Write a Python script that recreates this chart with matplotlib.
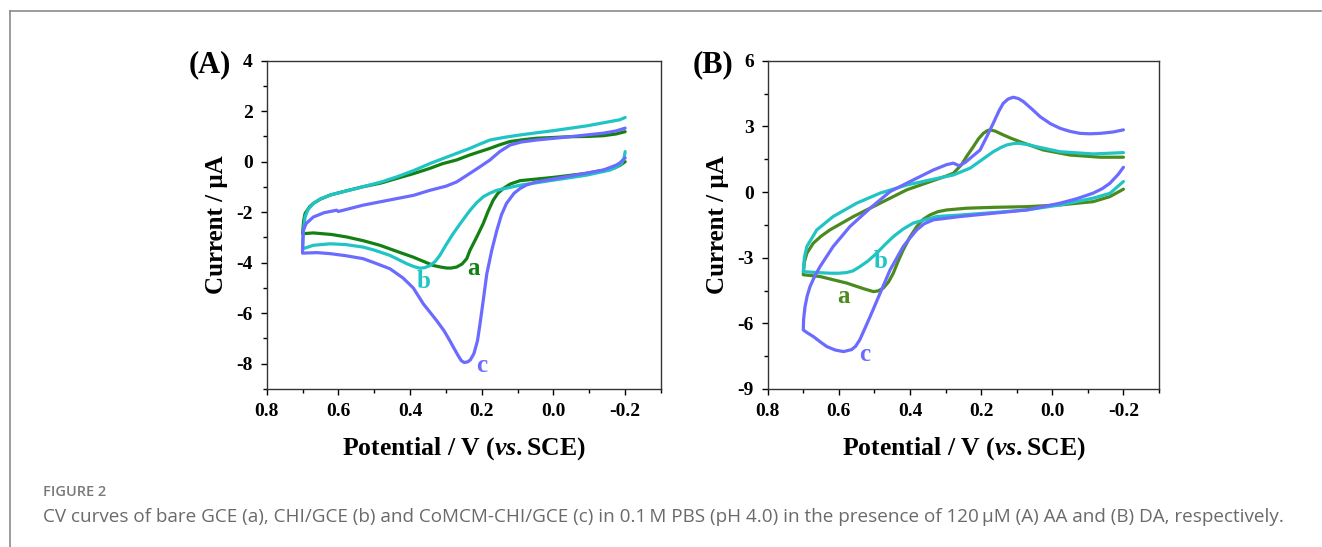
import numpy as np
import matplotlib
matplotlib.use("Agg")
import matplotlib.pyplot as plt
from matplotlib.ticker import MultipleLocator, FormatStrFormatter
from matplotlib.lines import Line2D

plt.rcParams['font.family'] = 'Liberation Serif'
plt.rcParams['font.weight'] = 'bold'
plt.rcParams['axes.unicode_minus'] = False
plt.rcParams['mathtext.fontset'] = 'custom'
plt.rcParams['mathtext.it'] = 'Liberation Serif:italic:bold'
plt.rcParams['mathtext.rm'] = 'Liberation Serif:bold'

# CV loops, potential (V) / current (uA)
# each trace: cathodic branch from -0.2 to 0.7, then anodic branch from 0.7 back to -0.2

# ---- panel A: AA
A_a_x = [-0.200, -0.185, -0.167, -0.093, 0.000, 0.093, 0.120, 0.140, 0.155, 0.168, 0.182, 0.196, 0.214,
         0.233, 0.242, 0.255, 0.270, 0.285, 0.298, 0.315, 0.335, 0.391, 0.437, 0.484, 0.530, 0.577, 0.620,
         0.670, 0.700,
         0.700, 0.697, 0.693, 0.680, 0.670, 0.650, 0.623, 0.580, 0.531, 0.480, 0.437, 0.390, 0.344, 0.310,
         0.270, 0.233, 0.205, 0.177, 0.150, 0.121, 0.080, 0.047, 0.000, -0.046, -0.093, -0.139, -0.175, -0.200]
A_a_y = [0.00, -0.15, -0.26, -0.46, -0.62, -0.75, -0.88, -1.06, -1.25, -1.52, -1.95, -2.45, -2.98,
         -3.51, -3.84, -4.05, -4.17, -4.21, -4.21, -4.17, -4.11, -3.78, -3.55, -3.31, -3.13, -2.98, -2.88,
         -2.82, -2.85,
         -2.85, -2.35, -2.05, -1.78, -1.65, -1.48, -1.32, -1.16, -0.99, -0.84, -0.66, -0.47, -0.26, -0.08,
         0.07, 0.27, 0.40, 0.53, 0.67, 0.80, 0.88, 0.93, 0.96, 0.99, 1.00, 1.03, 1.10, 1.19]

A_b_x = [-0.200, -0.197, -0.190, -0.175, -0.158, -0.093, 0.000, 0.093, 0.158, 0.178, 0.196, 0.214, 0.230,
         0.242, 0.260, 0.280, 0.300, 0.317, 0.330, 0.344, 0.358, 0.372, 0.390, 0.409, 0.456, 0.500, 0.531,
         0.580, 0.623, 0.670, 0.700,
         0.700, 0.698, 0.693, 0.685, 0.670, 0.650, 0.623, 0.531, 0.480, 0.437, 0.390, 0.344, 0.300, 0.270,
         0.233, 0.205, 0.177, 0.135, 0.093, 0.045, 0.000, -0.093, -0.158, -0.185, -0.200]
A_b_y = [0.40, 0.15, -0.07, -0.22, -0.33, -0.53, -0.73, -0.93, -1.13, -1.25, -1.39, -1.62, -1.88,
         -2.10, -2.45, -2.85, -3.30, -3.71, -3.95, -4.11, -4.19, -4.22, -4.15, -4.04, -3.71, -3.50, -3.38,
         -3.28, -3.25, -3.31, -3.45,
         -3.45, -2.80, -2.19, -1.90, -1.65, -1.47, -1.32, -0.99, -0.80, -0.60, -0.35, -0.07, 0.17, 0.33,
         0.53, 0.70, 0.86, 0.97, 1.06, 1.15, 1.23, 1.42, 1.59, 1.66, 1.75]

A_c_x = [-0.200, -0.185, -0.176, -0.139, -0.046, 0.047, 0.075, 0.093, 0.110, 0.131, 0.145, 0.158, 0.172,
         0.186, 0.195, 0.205, 0.212, 0.222, 0.232, 0.240, 0.249, 0.257, 0.265, 0.277, 0.289, 0.305, 0.326,
         0.345, 0.363, 0.391, 0.420, 0.456, 0.500, 0.531, 0.580, 0.623, 0.660, 0.700,
         0.700, 0.699, 0.698, 0.690, 0.670, 0.640, 0.605, 0.600, 0.531, 0.437, 0.390, 0.344, 0.300, 0.270,
         0.233, 0.205, 0.177, 0.150, 0.121, 0.090, 0.047, -0.046, -0.139, -0.175, -0.200]
A_c_y = [0.15, -0.05, -0.13, -0.33, -0.57, -0.80, -0.92, -1.06, -1.25, -1.65, -2.10, -2.72, -3.50,
         -4.44, -5.40, -6.43, -7.09, -7.60, -7.85, -7.93, -7.95, -7.88, -7.70, -7.40, -7.09, -6.70, -6.29,
         -5.95, -5.63, -5.00, -4.60, -4.24, -4.00, -3.84, -3.72, -3.64, -3.60, -3.62,
         -3.62, -3.10, -2.72, -2.45, -2.19, -2.02, -1.92, -1.97, -1.72, -1.46, -1.33, -1.13, -0.97, -0.80,
         -0.46, -0.20, 0.07, 0.40, 0.66, 0.78, 0.86, 0.99, 1.13, 1.22, 1.33]

# ---- panel B: DA
B_a_x = [-0.200, -0.162, -0.115, -0.022, 0.072, 0.166, 0.241, 0.297, 0.322, 0.344, 0.363, 0.381, 0.400,
         0.419, 0.433, 0.447, 0.460, 0.475, 0.490, 0.503, 0.530, 0.578, 0.653, 0.700,
         0.700, 0.697, 0.690, 0.672, 0.650, 0.625, 0.559, 0.484, 0.409, 0.344, 0.300, 0.278, 0.255, 0.241,
         0.222, 0.208, 0.194, 0.183, 0.175, 0.160, 0.138, 0.115, 0.091, 0.025, -0.050, -0.135, -0.200]
B_a_y = [0.13, -0.21, -0.44, -0.59, -0.67, -0.70, -0.74, -0.82, -0.90, -1.05, -1.25, -1.58, -2.05,
         -2.64, -3.15, -3.71, -4.10, -4.39, -4.52, -4.55, -4.42, -4.16, -3.86, -3.78,
         -3.78, -3.20, -2.80, -2.34, -2.02, -1.73, -1.12, -0.51, 0.10, 0.47, 0.72, 0.86, 1.25, 1.62,
         2.07, 2.42, 2.68, 2.80, 2.84, 2.78, 2.61, 2.45, 2.30, 1.92, 1.69, 1.59, 1.59]

B_b_x = [-0.200, -0.162, -0.115, -0.022, 0.072, 0.166, 0.259, 0.325, 0.391, 0.420, 0.447, 0.470, 0.494,
         0.518, 0.541, 0.560, 0.578, 0.600, 0.625, 0.660, 0.700,
         0.700, 0.697, 0.690, 0.662, 0.616, 0.550, 0.484, 0.409, 0.344, 0.278, 0.231, 0.212, 0.166, 0.145,
         0.128, 0.110, 0.095, 0.070, 0.044, -0.022, -0.115, -0.200]
B_b_y = [0.48, -0.06, -0.28, -0.59, -0.82, -0.94, -1.05, -1.12, -1.42, -1.70, -2.04, -2.40, -2.80,
         -3.15, -3.41, -3.60, -3.68, -3.71, -3.71, -3.68, -3.64,
         -3.64, -3.00, -2.49, -1.73, -1.12, -0.51, -0.05, 0.32, 0.55, 0.78, 1.09, 1.31, 1.84, 2.03,
         2.15, 2.21, 2.23, 2.17, 2.07, 1.84, 1.74, 1.80]

B_c_x = [-0.200, -0.185, -0.162, -0.140, -0.115, -0.070, -0.022, 0.072, 0.166, 0.259, 0.334, 0.360, 0.381,
         0.400, 0.419, 0.456, 0.484, 0.512, 0.541, 0.553, 0.564, 0.587, 0.610, 0.634, 0.652, 0.672, 0.690,
         0.700,
         0.700, 0.699, 0.695, 0.689, 0.681, 0.668, 0.653, 0.616, 0.569, 0.512, 0.456, 0.391, 0.334, 0.297,
         0.278, 0.262, 0.245, 0.203, 0.185, 0.166, 0.150, 0.138, 0.124, 0.110, 0.095, 0.081, 0.058, 0.034,
         0.005, -0.022, -0.050, -0.078, -0.105, -0.135, -0.170, -0.200]
B_c_y = [1.13, 0.80, 0.40, 0.15, -0.05, -0.30, -0.51, -0.82, -0.97, -1.12, -1.27, -1.45, -1.73,
         -2.10, -2.49, -3.56, -4.62, -5.69, -6.75, -7.05, -7.20, -7.29, -7.22, -7.06, -6.85, -6.60, -6.42,
         -6.30,
         -6.30, -5.80, -5.23, -4.75, -4.32, -3.85, -3.41, -2.49, -1.58, -0.74, 0.02, 0.55, 1.01, 1.25,
         1.32, 1.20, 1.35, 1.92, 2.50, 3.14, 3.70, 4.05, 4.25, 4.33, 4.27, 4.13, 3.80, 3.44,
         3.12, 2.91, 2.77, 2.68, 2.66, 2.68, 2.74, 2.84]

labels = ['a', 'b', 'c']
colors_A = ['#138013', '#20c4c4', '#6b6bff']
colors_B = ['#4b8b1e', '#20c4c4', '#6b6bff']
label_pos_A = [(0.224, -4.24), (0.361, -4.73), (0.200, -8.08)]
label_pos_B = [(0.587, -4.78), (0.484, -3.18), (0.526, -7.44)]

fig = plt.figure(figsize=(13.22, 5.47), dpi=100)

# page frame lines
fig.add_artist(Line2D([10 / 1322, 10 / 1322], [0, 1 - 11 / 547], color='#8a8a8a', lw=1.2))
fig.add_artist(Line2D([10 / 1322, 1321 / 1322], [1 - 11 / 547, 1 - 11 / 547], color='#8a8a8a', lw=1.2))

axA = fig.add_axes([266.7 / 1322, 1 - 389 / 547, 394.3 / 1322, 328.3 / 547])
axB = fig.add_axes([767.7 / 1322, 1 - 389 / 547, 391.3 / 1322, 328.3 / 547])


def style(ax, ylo, yhi, ystep):
    ax.set_xlim(0.8, -0.3)
    ax.set_ylim(ylo, yhi)
    ax.xaxis.set_major_locator(MultipleLocator(0.2))
    ax.xaxis.set_minor_locator(MultipleLocator(0.1))
    ax.xaxis.set_major_formatter(FormatStrFormatter('%.1f'))
    ax.yaxis.set_major_locator(MultipleLocator(ystep))
    ax.yaxis.set_minor_locator(MultipleLocator(ystep / 2))
    ax.set_xticks([0.8, 0.6, 0.4, 0.2, 0.0, -0.2])
    ax.tick_params(which='both', direction='out', top=False, right=False, labelsize=14, width=1)
    ax.tick_params(which='major', length=4, pad=6)
    ax.tick_params(which='minor', length=3)
    for s in ax.spines.values():
        s.set_linewidth(1)
        s.set_color('#333333')
    for t in ax.get_xticklabels() + ax.get_yticklabels():
        t.set_fontweight('bold')
    ax.set_xlabel(r'Potential / V ($\mathit{vs.}$SCE)', fontsize=18.5, fontweight='bold', labelpad=11)
    ax.set_ylabel('Current / μA', fontsize=18, fontweight='bold', labelpad=6)


for x, y, c in zip([A_a_x, A_b_x, A_c_x], [A_a_y, A_b_y, A_c_y], colors_A):
    axA.plot(x, y, color=c, lw=2.3, solid_joinstyle='round', solid_capstyle='round')
for x, y, c in zip([B_a_x, B_b_x, B_c_x], [B_a_y, B_b_y, B_c_y], colors_B):
    axB.plot(x, y, color=c, lw=2.3, solid_joinstyle='round', solid_capstyle='round')

for lab, (lx, ly), c in zip(labels, label_pos_A, colors_A):
    axA.text(lx, ly, lab, color=c, fontsize=18, fontweight='bold', ha='center', va='center')
for lab, (lx, ly), c in zip(labels, label_pos_B, colors_B):
    axB.text(lx, ly, lab, color=c, fontsize=18, fontweight='bold', ha='center', va='center')

style(axA, -9, 4, 2)
style(axB, -9, 6, 3)

fig.text(231 / 1322, 1 - 65 / 547, '(A)', fontsize=22, fontweight='bold', ha='right', va='center')
fig.text(733 / 1322, 1 - 65 / 547, '(B)', fontsize=22, fontweight='bold', ha='right', va='center')

fig.text(43 / 1322, 1 - 492 / 547, 'FIGURE 2', fontsize=10.5, family='Open Sans', fontweight='semibold',
         color='#7a7a7a', ha='left', va='center')
fig.text(43 / 1322, 1 - 517 / 547,
         'CV curves of bare GCE (a), CHI/GCE (b) and CoMCM-CHI/GCE (c) in 0.1\u2009M PBS (pH 4.0) in the presence '
         'of 120\u2009μM (A) AA and (B) DA, respectively.',
         fontsize=13.6, family=['Open Sans', 'DejaVu Sans'], fontweight='normal', color='#6a6a6a',
         ha='left', va='center')

fig.savefig('out.png', dpi=100)
